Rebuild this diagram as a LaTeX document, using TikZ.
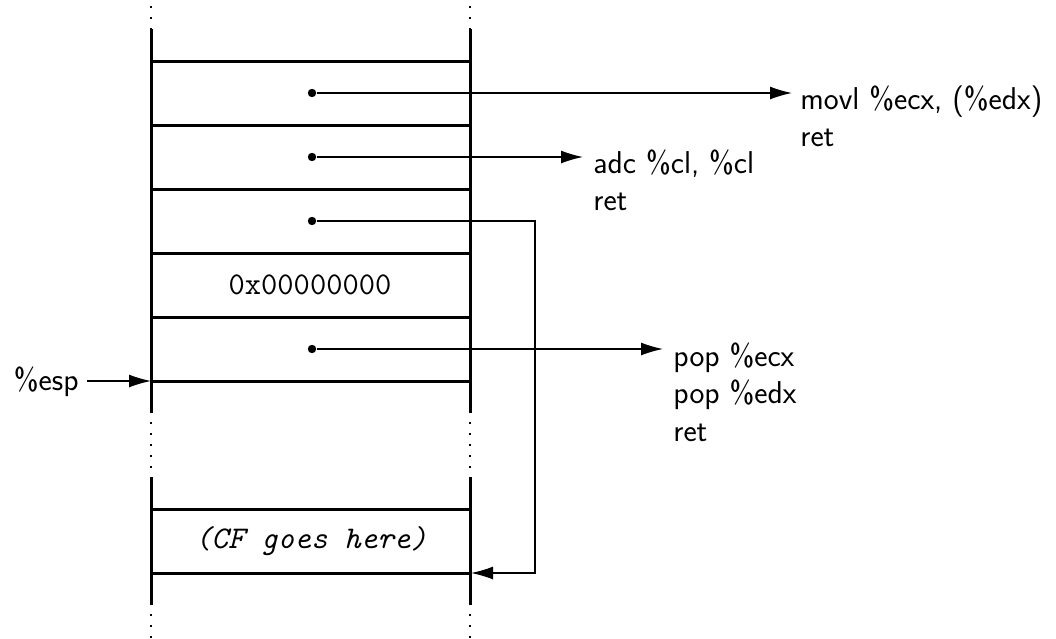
\documentclass[tikz,border=0pt]{standalone}
\usetikzlibrary{arrows.meta}
\newcommand\diagfont{\fontsize{15.8}{18.8}\selectfont}
\begin{document}
\begin{tikzpicture}[x=0.5pt,y=-0.5pt,
  stack/.style={line width=1.5pt},
  dotline/.style={line width=1.1pt, dash pattern=on 1.1pt off 4.4pt},
  ptr/.style={line width=0.7pt, -{Latex[length=11pt,width=6.5pt]}},
  lbl/.style={inner sep=0pt, anchor=base west, font=\diagfont\sffamily},
  cell/.style={inner sep=0pt, font=\diagfont\ttfamily},
  dotc/.style={circle, fill, inner sep=0pt, minimum size=4.2pt}
]
\useasboundingbox (0,0) rectangle (1056,638);
% vertical walls
\foreach \x in {151,470} {
  \draw[dotline] (\x,6) -- (\x,29);
  \draw[stack] (\x,29) -- (\x,413);
  \draw[dotline] (\x,422) -- (\x,472);
  \draw[stack] (\x,477) -- (\x,605);
  \draw[dotline] (\x,614) -- (\x,638);
}
% horizontal cell borders
\foreach \y in {61,125,189,253,317,381,509,573} {
  \draw[stack] (151,\y) -- (470,\y);
}
% cell contents
\node[cell] (zero) at (310,285) {0x00000000};
\node[cell, font=\diagfont\ttfamily\itshape] (cf) at (311,541) {(CF goes here)};
% pointer dots
\node[dotc] (d1) at (312,93) {};
\node[dotc] (d2) at (312,157) {};
\node[dotc] (d3) at (312,221) {};
\node[dotc] (d5) at (312,349) {};
% gadget labels
\node[lbl] (g1) at (800,109) {\begin{tabular}[t]{@{}l@{}}movl \%ecx, (\%edx)\\ ret\end{tabular}};
\node[lbl] (g2) at (593,173) {\begin{tabular}[t]{@{}l@{}}adc \%cl, \%cl\\ ret\end{tabular}};
\node[lbl] (g5) at (673,366) {\begin{tabular}[t]{@{}l@{}}pop \%ecx\\ pop \%edx\\ ret\end{tabular}};
\coordinate (t1) at (792,93);
\coordinate (t2) at (583,157);
\coordinate (t5) at (663,349);
\draw[ptr] (d1) -- (t1);
\draw[ptr] (d2) -- (t2);
\draw[ptr] (d5) -- (t5);
% pointer into CF cell
\coordinate (turn) at (535,221);
\coordinate (cfend) at (471,573);
\draw[ptr] (d3) -- (turn) |- (cfend);
% stack pointer
\node[lbl, anchor=base east] (esp) at (79,390) {\%esp};
\coordinate (espstart) at (87,381);
\coordinate (espend) at (151,381);
\draw[ptr] (espstart) -- (espend);
\end{tikzpicture}
\end{document}
